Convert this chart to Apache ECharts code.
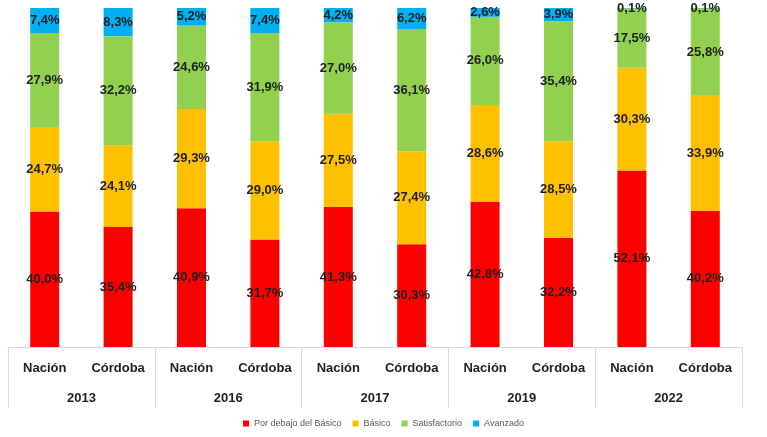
<!DOCTYPE html>
<html>
<head>
<meta charset="utf-8">
<script src="https://cdn.jsdelivr.net/npm/echarts@6/dist/echarts.min.js"></script>
<style>html,body{margin:0;padding:0;background:#fff}#c{width:767px;height:437px}</style>
</head>
<body>
<div id="c"></div>
<script>
const categories = ['Nación','Córdoba','Nación','Córdoba','Nación','Córdoba','Nación','Córdoba','Nación','Córdoba'];
const years = ['2013','2016','2017','2019','2022'];
const seriesNames = ['Por debajo del Básico','Básico','Satisfactorio','Avanzado'];
const porDebajo = [40.0, 35.4, 40.9, 31.7, 41.3, 30.3, 42.8, 32.2, 52.1, 40.2];
const basico = [24.7, 24.1, 29.3, 29.0, 27.5, 27.4, 28.6, 28.5, 30.3, 33.9];
const satisfactorio = [27.9, 32.2, 24.6, 31.9, 27.0, 36.1, 26.0, 35.4, 17.5, 25.8];
const avanzado = [7.4, 8.3, 5.2, 7.4, 4.2, 6.2, 2.6, 3.9, 0.1, 0.1];

const colors = ['#FF0000','#FFC000','#92D050','#00B0F0'];
const values = [porDebajo, basico, satisfactorio, avanzado];
const font = '"Liberation Sans", Arial, sans-serif';

const chart = echarts.init(document.getElementById('c'));
chart.setOption({
  animation: false,
  textStyle: {fontFamily: font},
  grid: {left: 8, right: 25, top: 8, bottom: 90, containLabel: false},
  legend: {
    bottom: 4, left: 'center',
    itemWidth: 6, itemHeight: 6, itemGap: 11,
    icon: 'rect',
    textStyle: {fontSize: 9, color: '#595959', fontFamily: font},
    data: seriesNames
  },
  xAxis: [
    {
      type: 'category', data: categories, position: 'bottom',
      axisLine: {show: true, lineStyle: {color: '#d9d9d9', width: 1}},
      axisTick: {show: false},
      axisLabel: {margin: 15, fontSize: 13, fontWeight: 'bold', color: '#1f1f1f', fontFamily: font, interval: 0}
    },
    {
      type: 'category', data: years, position: 'bottom', offset: 0,
      axisLine: {show: false},
      axisTick: {show: true, length: 61, lineStyle: {color: '#d9d9d9', width: 1}},
      axisLabel: {margin: 45, fontSize: 13, fontWeight: 'bold', color: '#1f1f1f', fontFamily: font, interval: 0}
    }
  ],
  yAxis: {type: 'value', min: 0, max: 100, show: false},
  series: seriesNames.map((name, i) => ({
    name: name, type: 'bar', stack: 'total', xAxisIndex: 0,
    barWidth: 29,
    data: values[i],
    itemStyle: {color: colors[i]},
    label: {
      show: true, position: 'inside',
      formatter: p => p.value.toFixed(1).replace('.', ',') + '%',
      fontSize: 13, fontWeight: 'bold', color: '#1f1f1f', fontFamily: font
    }
  }))
});
</script>
</body>
</html>
